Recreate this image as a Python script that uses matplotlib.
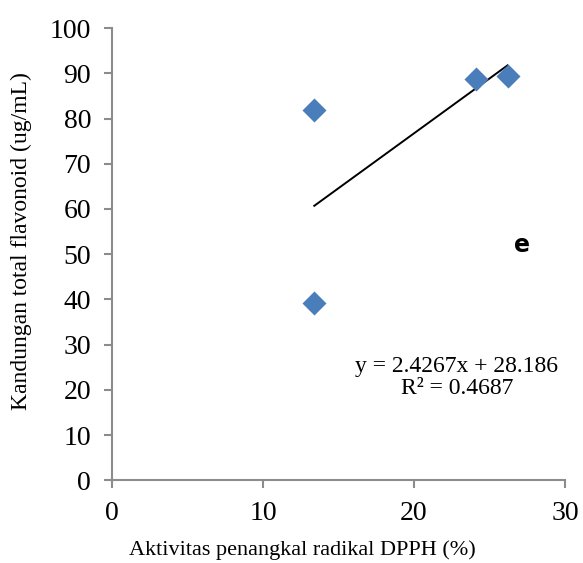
import numpy as np
import matplotlib.pyplot as plt

# data
dpph = [13.4, 13.4, 24.1, 26.2]
flavonoid = [81.9, 39.3, 88.8, 89.5]
slope = 2.4267
intercept = 28.186
r2 = 0.4687

plt.rcParams['font.family'] = ['Liberation Serif', 'DejaVu Serif']

fig = plt.figure(figsize=(5.83, 5.63), dpi=100)
ax = fig.add_axes([0.192, 0.147, 0.777, 0.803])

ax.scatter(dpph, flavonoid, marker='D', s=150, color='#4a7ebb', zorder=3, linewidths=0)

xs = np.array([min(dpph), max(dpph)])
ax.plot(xs, slope * xs + intercept, color='black', lw=1.4, zorder=2)

ax.set_xlim(0, 30)
ax.set_ylim(0, 100)
ax.set_xticks([0, 10, 20, 30])
ax.set_yticks(range(0, 101, 10))

for side in ['top', 'right']:
    ax.spines[side].set_visible(False)
for side in ['left', 'bottom']:
    ax.spines[side].set_color('#8c8c8c')
    ax.spines[side].set_linewidth(1.5)
ax.tick_params(axis='both', colors='#8c8c8c', width=1.5, length=6,
               labelsize=20, labelcolor='black')
ax.tick_params(axis='x', pad=9)
ax.tick_params(axis='y', pad=9)

ax.set_xlabel('Aktivitas penangkal radikal DPPH (%)', fontsize=16, va='center')
ax.xaxis.set_label_coords(0.42, -0.155)
ax.set_ylabel('Kandungan total flavonoid (ug/mL)', fontsize=17, va='center')
ax.yaxis.set_label_coords(-0.199, 0.53)

ax.text(27.15, 52.0, 'e', fontsize=17, fontweight='bold', family='DejaVu Sans',
        ha='center', va='center')
ax.text(22.85, 25.2, f'y = {slope}x + {intercept}', fontsize=17,
        ha='center', va='center')
ax.text(22.85, 20.4, f'R² = {r2}', fontsize=17, ha='center', va='center')

fig.savefig('out.png', dpi=100)
